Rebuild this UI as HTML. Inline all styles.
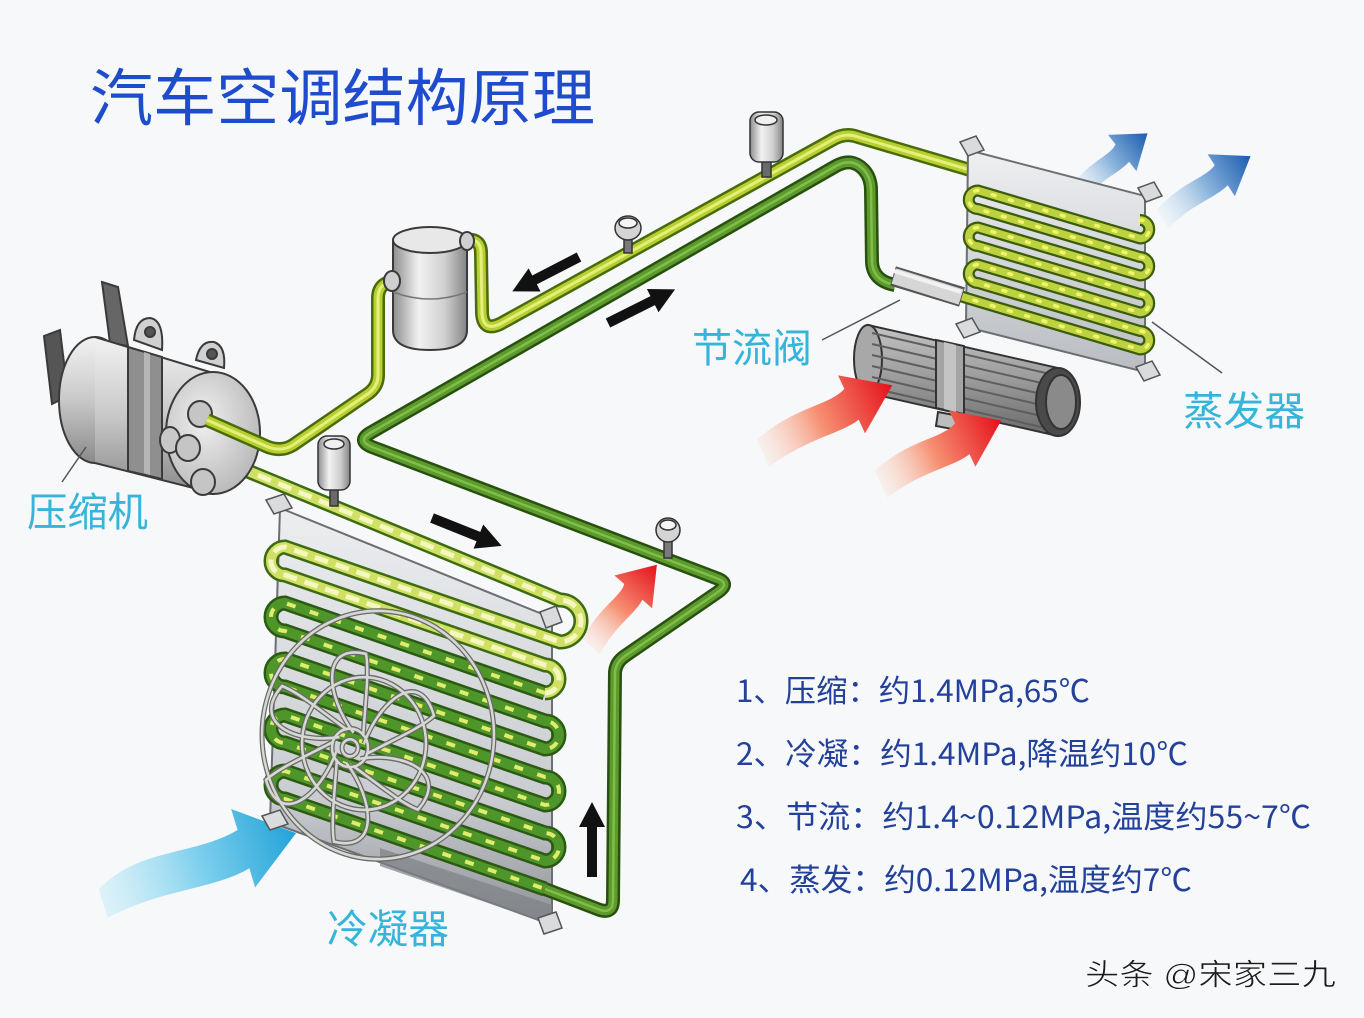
<!DOCTYPE html>
<html><head><meta charset="utf-8"><style>
html,body{margin:0;padding:0;background:#f6f8fa;}
svg{display:block}
text{font-family:"Liberation Sans","Noto Sans CJK SC",sans-serif;}
.cjk{font-family:"Noto Sans CJK SC","Liberation Sans",sans-serif;}
</style></head><body>
<svg width="1364" height="1018" viewBox="0 0 1364 1018" xmlns="http://www.w3.org/2000/svg">
<defs>
 <linearGradient id="cg" x1="0" y1="0" x2="0" y2="1">
  <stop offset="0" stop-color="#f2f2f2"/><stop offset="0.5" stop-color="#c9c9c9"/><stop offset="1" stop-color="#8a8a8a"/>
 </linearGradient>
 <radialGradient id="fg" cx="0.4" cy="0.4" r="0.7">
  <stop offset="0" stop-color="#f0f0f0"/><stop offset="1" stop-color="#b4b4b4"/>
 </radialGradient>
 <linearGradient id="rg" x1="0" y1="0" x2="1" y2="0">
  <stop offset="0" stop-color="#8e8e8e"/><stop offset="0.35" stop-color="#f2f2f2"/><stop offset="0.7" stop-color="#cfcfcf"/><stop offset="1" stop-color="#858585"/>
 </linearGradient>
 <linearGradient id="pg" x1="0" y1="0" x2="0" y2="1">
  <stop offset="0" stop-color="#eceef0"/><stop offset="0.7" stop-color="#c9ccd0"/><stop offset="1" stop-color="#8e9196"/>
 </linearGradient>
 <linearGradient id="eg" x1="0" y1="0" x2="0" y2="1">
  <stop offset="0" stop-color="#eef0f2"/><stop offset="1" stop-color="#b9bcc0"/>
 </linearGradient>
 <linearGradient id="bg" x1="0" y1="0" x2="0" y2="1">
  <stop offset="0" stop-color="#c4c4c4"/><stop offset="0.5" stop-color="#9a9a9a"/><stop offset="1" stop-color="#6a6a6a"/>
 </linearGradient>
 <linearGradient id="red" x1="0" y1="0" x2="1" y2="0">
  <stop offset="0" stop-color="#fbd2bd" stop-opacity="0.2"/><stop offset="0.45" stop-color="#f69072"/><stop offset="1" stop-color="#e5101c"/>
 </linearGradient>
 <linearGradient id="blue" x1="0" y1="0" x2="1" y2="0">
  <stop offset="0" stop-color="#d2e4f3" stop-opacity="0.2"/><stop offset="0.5" stop-color="#8ab4dc"/><stop offset="1" stop-color="#1c5caf"/>
 </linearGradient>
 <linearGradient id="cyan" x1="0" y1="0" x2="1" y2="0">
  <stop offset="0" stop-color="#c4ecf7" stop-opacity="0.5"/><stop offset="0.5" stop-color="#7fd0ee"/><stop offset="1" stop-color="#22a3d8"/>
 </linearGradient>

 <path id="suc1" d="M207,420 L268,447 Q282,452 293,445 L369,393 Q378,386 378,375 L378,298 Q378,283 394,281" fill="none"/>
 <path id="suc2" d="M466,240 Q481,238 481,253 L482,313 Q483,332 500,324 L832,140 Q845,132 858,137 L1140,220" fill="none"/>
 <path id="evap" d="M1140,220 A9.25 9.25 0 0 1 1140,238.5 L978,190.5 A9.25 9.25 0 0 0 978,209 L1140,257 A9.25 9.25 0 0 1 1140,275.5 L978,227.5 A9.25 9.25 0 0 0 978,246 L1140,294 A9.25 9.25 0 0 1 1140,312.5 L978,264.5 A9.25 9.25 0 0 0 978,283 L1140,331 A9.25 9.25 0 0 1 1140,349.5 L978,301.5 L960,296" fill="none"/>
 <path id="hot" d="M197,450 L560,600 A21 21 0 0 1 560,642 L285,547 A14 14 0 0 0 285,575 L545,665 A14 14 0 0 1 545,693" fill="none"/>
 <path id="crows" d="M545,693 L285,603 A14 14 0 0 0 285,631 L545,721 A14 14 0 0 1 545,749 L285,659 A14 14 0 0 0 285,687 L545,777 A14 14 0 0 1 545,805 L285,715 A14 14 0 0 0 285,743 L545,833 A14 14 0 0 1 545,861 L285,771 A14 14 0 0 0 285,799 L545,889" fill="none"/>
 <path id="dg" d="M545,889 L600,910 Q613,914 613,900 L615,672 Q616,662 625,656 L718,592 Q731,583 716,578 L372,447 Q357,441 370,433 L836,166 Q852,157 864,170 Q871,178 871,190 L872,262 Q873,281 895,285" fill="none"/>

 <g id="blade"><path d="M14,-4 C30,-45 70,-75 84,-30 C70,-18 40,-6 16,6"/></g>
 <g id="fan" fill="none">
  <circle cx="0" cy="0" r="116"/>
  <circle cx="-14" cy="8" r="62"/>
  <g transform="translate(-28,12)">
   <circle cx="0" cy="0" r="18"/>
   <circle cx="0" cy="0" r="8"/>
   <use href="#blade"/>
   <use href="#blade" transform="rotate(60)"/>
   <use href="#blade" transform="rotate(120)"/>
   <use href="#blade" transform="rotate(180)"/>
   <use href="#blade" transform="rotate(240)"/>
   <use href="#blade" transform="rotate(300)"/>
  </g>
 </g>
 <path id="arr" d="M0,-5 L0,5 L50,5 L50,13 L75,0 L50,-13 L50,-5 Z"/>
</defs>

<rect width="1364" height="1018" fill="#f6f8fa"/>

<!-- Title -->
<text x="90" y="120" font-size="62" fill="#1f4ccc" textLength="505" lengthAdjust="spacingAndGlyphs">汽车空调结构原理</text>

<!-- Cyan incoming air arrow -->
<path transform="translate(100,893) rotate(-17)" d="M0,-4 C50,-32 100,-8 150,-20 L150,-42 L205,0 L150,40 L150,20 C110,30 60,14 0,26 Z" fill="url(#cyan)"/>

<!-- Condenser red arrow (behind coils) -->
<path transform="translate(588,644) rotate(-49)" d="M0,-7 C36,-16 57,-6 69,-12 L69,-25 L105,0 L69,25 L69,12 C55,16 30,8 0,16 Z" fill="url(#red)"/>

<!-- Condenser plate -->
<polygon points="280,508 552,618 552,925 270,822" fill="url(#pg)" stroke="#6c6f72" stroke-width="2"/>
<polygon points="380,848 552,905 552,925 380,866" fill="#7d8084" opacity="0.7"/>
<g fill="#d9dbdd" stroke="#555" stroke-width="1.5">
 <polygon points="266,500 284,494 292,508 274,514"/>
 <polygon points="540,612 556,606 562,622 546,628"/>
 <polygon points="262,816 280,810 288,824 270,830"/>
 <polygon points="538,918 556,912 562,928 544,934"/>
</g>

<!-- Condenser coils -->
<use href="#crows" stroke="#2c5a12" stroke-width="15"/>
<use href="#crows" stroke="#4f962a" stroke-width="10"/>
<use href="#crows" stroke="#e2ec6c" stroke-width="4" stroke-dasharray="9 15"/>
<use href="#hot" stroke="#3d6a12" stroke-width="15"/>
<use href="#hot" stroke="#cfe064" stroke-width="10"/>
<use href="#hot" stroke="#f4f7c0" stroke-width="5" stroke-dasharray="14 8"/>

<!-- Fan grill -->
<g transform="translate(378,735) scale(1,1.07)">
 <use href="#fan" stroke="#6a6a6a" stroke-width="5"/>
 <use href="#fan" stroke="#d6d8d2" stroke-width="2.5"/>
</g>

<!-- Dark green liquid line -->
<use href="#dg" stroke="#2a5010" stroke-width="14"/>
<use href="#dg" stroke="#5b9a2c" stroke-width="9"/>
<use href="#dg" stroke="#82bd4a" stroke-width="2.5"/>

<!-- Gauge on dark green -->
<g stroke="#333" stroke-width="1.5">
 <rect x="664" y="538" width="8" height="20" fill="#7a7a7a"/>
 <ellipse cx="668" cy="530" rx="12" ry="12" fill="#d4d4d4"/>
 <ellipse cx="668" cy="525" rx="8" ry="5" fill="#f5f5f5"/>
</g>

<!-- Pressure switch on hot pipe -->
<g stroke="#333" stroke-width="1.5">
 <rect x="330" y="486" width="8" height="20" fill="#6a6a6a"/>
 <rect x="318" y="436" width="32" height="54" rx="9" fill="url(#rg)"/>
 <ellipse cx="334" cy="444" rx="10" ry="5" fill="#f0f0f0"/>
</g>

<!-- Compressor -->
<g stroke="#3a3a3a" stroke-width="2">
 <path d="M44,336 L60,330 L68,396 L52,404 Z" fill="#555"/>
 <path d="M102,282 L118,287 L128,346 L110,343 Z" fill="#666"/>
 <ellipse cx="95" cy="400" rx="36" ry="63" fill="url(#cg)"/>
 <path d="M95,337 L213,373 L213,493 L95,463 Z" fill="url(#cg)" stroke="none"/>
 <path d="M95,337 L213,373 M95,463 L213,493" fill="none"/>
 <path d="M128,347 L162,357 L162,479 L128,471 Z" fill="#8f8f8f"/>
 <path d="M144,352 L150,354 L150,475 L144,473 Z" fill="#b5b5b5" stroke="none"/>
 <path d="M134,340 Q136,318 150,318 Q164,320 162,350 Z" fill="#d0d0d0"/>
 <circle cx="150" cy="332" r="5" fill="#555"/>
 <path d="M196,360 Q200,340 214,342 Q226,346 224,368 Z" fill="#d0d0d0"/>
 <circle cx="212" cy="354" r="5" fill="#555"/>
 <ellipse cx="213" cy="433" rx="47" ry="61" fill="url(#fg)"/>
 <ellipse cx="170" cy="440" rx="10" ry="13" fill="#c8c8c8"/>
 <ellipse cx="200" cy="414" rx="12" ry="13" fill="#c5c5c5"/>
 <ellipse cx="188" cy="448" rx="12" ry="13" fill="#c5c5c5"/>
 <ellipse cx="203" cy="482" rx="12" ry="13" fill="#c5c5c5"/>
 <path d="M62,482 L86,447" fill="none" stroke="#555" stroke-width="1.5"/>
</g>

<!-- Suction line (yellow-green) -->
<use href="#suc1" stroke="#4a6a0c" stroke-width="14"/>
<use href="#suc1" stroke="#b7d030" stroke-width="9"/>
<use href="#suc1" stroke="#e4ef7c" stroke-width="3"/>
<use href="#suc2" stroke="#4a6a0c" stroke-width="14"/>
<use href="#suc2" stroke="#b7d030" stroke-width="9"/>
<use href="#suc2" stroke="#e4ef7c" stroke-width="3"/>

<!-- Receiver drier -->
<g stroke="#3a3a3a" stroke-width="2">
 <rect x="393" y="240" width="74" height="95" fill="url(#rg)" stroke="none"/>
 <path d="M393,240 L393,330 Q393,350 430,350 Q467,350 467,330 L467,240" fill="url(#rg)"/>
 <path d="M393,292 Q430,306 467,292" fill="none" stroke="#777" stroke-width="1.5"/>
 <ellipse cx="430" cy="240" rx="37" ry="13" fill="#e8e8e8"/>
 <ellipse cx="392" cy="281" rx="8" ry="10" fill="#cfcfcf"/>
 <ellipse cx="467" cy="241" rx="7" ry="9" fill="#cfcfcf"/>
</g>

<!-- Gauge on suction -->
<g stroke="#333" stroke-width="1.5">
 <rect x="624" y="236" width="8" height="17" fill="#7a7a7a"/>
 <ellipse cx="628" cy="228" rx="13" ry="12" fill="#d4d4d4"/>
 <ellipse cx="628" cy="223" rx="9" ry="5" fill="#f5f5f5"/>
</g>

<!-- Top cylinder -->
<g stroke="#333" stroke-width="1.5">
 <rect x="762" y="158" width="9" height="19" fill="#6a6a6a"/>
 <rect x="750" y="112" width="33" height="50" rx="9" fill="url(#rg)"/>
 <ellipse cx="766" cy="120" rx="11" ry="5" fill="#f0f0f0"/>
</g>

<!-- Black arrows -->
<g fill="#111">
 <use href="#arr" transform="translate(432,518) rotate(21.8)"/>
 <use href="#arr" transform="translate(579,257) rotate(152.7)"/>
 <use href="#arr" transform="translate(608,323) rotate(-26.6)"/>
 <use href="#arr" transform="translate(592,877) rotate(-90)"/>
</g>

<!-- Blue output arrows (behind evaporator) -->
<path transform="translate(1075,190) rotate(-38)" d="M0,-5 C30,-14 48,-5 60,-11 L60,-23 L92,0 L60,23 L60,11 C46,14 25,7 0,14 Z" fill="url(#blue)"/>
<path transform="translate(1160,215) rotate(-33)" d="M0,-6 C36,-16 58,-6 73,-12 L73,-25 L108,0 L73,25 L73,12 C55,16 30,8 0,16 Z" fill="url(#blue)"/>

<!-- Evaporator -->
<polygon points="968,150 1145,196 1145,372 966,327" fill="url(#eg)" stroke="#6c6f72" stroke-width="2"/>
<g fill="#d9dbdd" stroke="#555" stroke-width="1.5">
 <polygon points="960,142 976,136 984,150 968,156"/>
 <polygon points="1138,188 1154,182 1162,196 1146,202"/>
 <polygon points="956,324 972,318 980,332 964,338"/>
 <polygon points="1136,367 1152,361 1160,375 1144,381"/>
</g>
<use href="#evap" stroke="#3b5c0e" stroke-width="12"/>
<use href="#evap" stroke="#bcd23e" stroke-width="7.5"/>
<use href="#evap" stroke="#f3f46e" stroke-width="3.5" stroke-dasharray="3 15" stroke-linecap="round"/>

<!-- Expansion valve -->
<g>
 <line x1="893" y1="276" x2="962" y2="297" stroke="#555" stroke-width="20"/>
 <line x1="894" y1="276" x2="961" y2="297" stroke="#d6d6d6" stroke-width="16"/>
 <line x1="894" y1="271" x2="961" y2="292" stroke="#f2f2f2" stroke-width="4"/>
</g>

<!-- Blower -->
<g stroke="#333" stroke-width="2">
 <path d="M868,325 L1058,368 L1058,436 L868,393 Z" fill="url(#bg)"/>
 <ellipse cx="868" cy="359" rx="14" ry="34" fill="#a8a8a8"/>
 <g stroke="#5e5e5e" stroke-width="2">
  <line x1="872" y1="333" x2="1050" y2="374"/>
  <line x1="872" y1="344" x2="1050" y2="385"/>
  <line x1="872" y1="355" x2="1050" y2="396"/>
  <line x1="872" y1="366" x2="1050" y2="407"/>
  <line x1="872" y1="377" x2="1050" y2="418"/>
  <line x1="872" y1="388" x2="1050" y2="429"/>
 </g>
 <path d="M936,340 L964,346 L964,414 L936,408 Z" fill="#a4a4a4"/>
 <path d="M944,342 L956,345 L956,412 L944,409 Z" fill="#c4c4c4" stroke="none"/>
 <path d="M938,412 L970,418 L968,432 L936,426 Z" fill="#bdbdbd"/>
 <ellipse cx="1058" cy="402" rx="22" ry="34" fill="#4a4a4a"/>
 <ellipse cx="1061" cy="402" rx="15" ry="27" fill="#8a8a8a"/>
</g>

<!-- Red input arrows -->
<path transform="translate(760,447) rotate(-25)" d="M0,-8 C50,-22 80,-8 101,-17 L101,-32 L146,0 L101,32 L101,17 C78,22 45,12 0,22 Z" fill="url(#red)"/>
<path transform="translate(878,478) rotate(-25)" d="M0,-8 C46,-22 75,-8 93,-17 L93,-31 L136,0 L93,31 L93,17 C72,22 42,12 0,22 Z" fill="url(#red)"/>

<!-- Leader lines -->
<g stroke="#555" stroke-width="1.5" fill="none">
 <line x1="822" y1="340" x2="900" y2="300"/>
 <line x1="1152" y1="322" x2="1222" y2="373"/>
</g>

<!-- Labels -->
<g fill="#36b4d9" font-size="40">
 <text x="27" y="526" textLength="121" lengthAdjust="spacingAndGlyphs">压缩机</text>
 <text x="692" y="362" textLength="120" lengthAdjust="spacingAndGlyphs">节流阀</text>
 <text x="1183" y="425" textLength="122" lengthAdjust="spacingAndGlyphs">蒸发器</text>
 <text x="327" y="943" textLength="122" lengthAdjust="spacingAndGlyphs">冷凝器</text>
</g>

<!-- Parameter list -->
<g fill="#23409a" font-size="31" class="cjk">
 <text class="cjk" x="736" y="702" textLength="354" lengthAdjust="spacingAndGlyphs">1、压缩：约1.4MPa,65℃</text>
 <text class="cjk" x="736" y="765" textLength="452" lengthAdjust="spacingAndGlyphs">2、冷凝：约1.4MPa,降温约10℃</text>
 <text class="cjk" x="736" y="828" textLength="575" lengthAdjust="spacingAndGlyphs">3、节流：约1.4~0.12MPa,温度约55~7℃</text>
 <text class="cjk" x="740" y="891" textLength="452" lengthAdjust="spacingAndGlyphs">4、蒸发：约0.12MPa,温度约7℃</text>
</g>

<!-- Watermark -->
<text x="1085" y="985" font-size="30" fill="#1c1c1c" stroke="#ffffff" stroke-width="0.6" textLength="251" lengthAdjust="spacingAndGlyphs">头条 @宋家三九</text>
</svg>
</body></html>
